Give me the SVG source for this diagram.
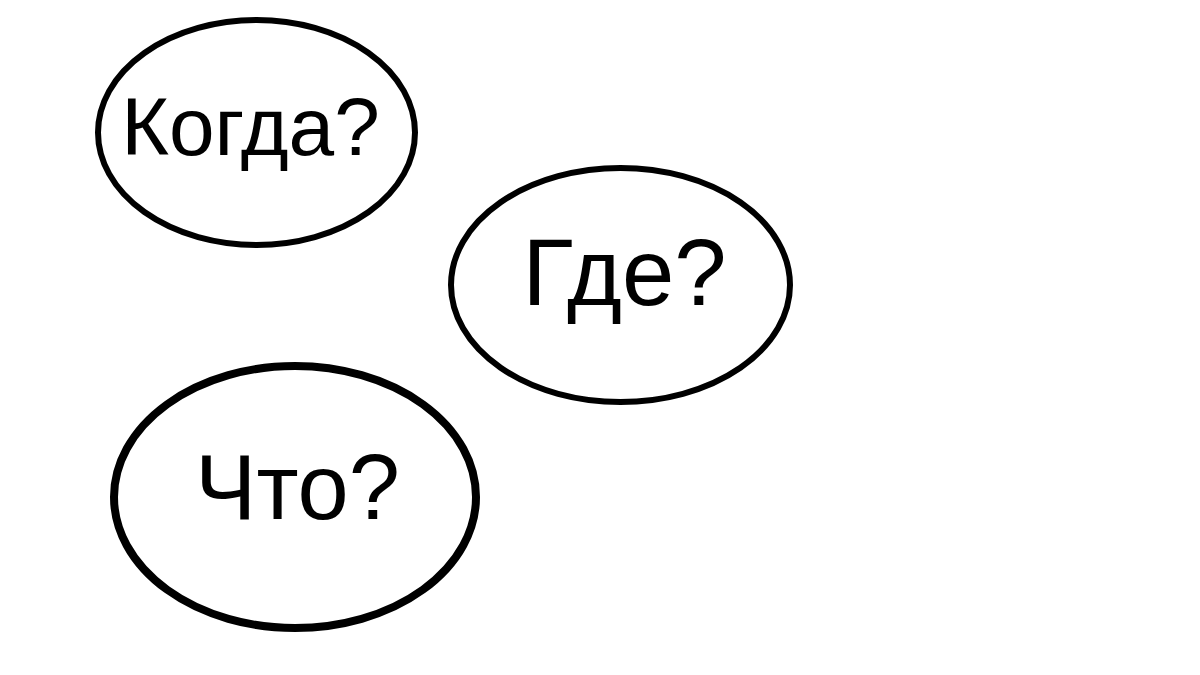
<svg xmlns="http://www.w3.org/2000/svg" width="1200" height="675" viewBox="0 0 1200 675">
<style>
.node ellipse{fill:#fff;stroke:#000;stroke-width:6}
.node text{font-family:"Liberation Sans",Arial,sans-serif;fill:#000;text-anchor:middle}
</style>
<rect width="1200" height="675" fill="#fff"/>
<g id="connectors"/>
<g id="node-kogda" class="node">
<ellipse cx="256.5" cy="132.5" rx="158.5" ry="112.5"/>
<text x="250.5" y="155" font-size="82">Когда?</text>
</g>
<g id="node-gde" class="node">
<ellipse cx="620.5" cy="285" rx="169.5" ry="117"/>
<text x="624.5" y="305" font-size="94">Где?</text>
</g>
<g id="node-chto" class="node">
<ellipse cx="295" cy="497" rx="181" ry="131" style="stroke-width:8"/>
<text x="297.5" y="519" font-size="92">Что?</text>
</g>
</svg>
